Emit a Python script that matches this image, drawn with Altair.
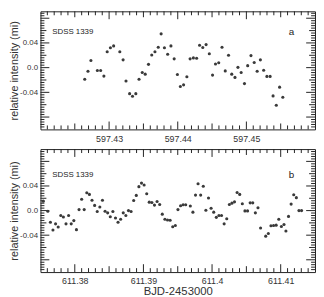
import altair as alt
import pandas as pd

# ---- data ----
t_a = [597.42645, 597.42692, 597.42735, 597.42829, 597.42877, 597.42924, 597.42972, 597.43019,
       597.43066, 597.43156, 597.43204, 597.43246, 597.43299, 597.43341, 597.43389, 597.43436,
       597.43483, 597.43526, 597.43574, 597.43621, 597.43668, 597.43716, 597.43758, 597.43806,
       597.43853, 597.43901, 597.43948, 597.43995, 597.44038, 597.44085, 597.44133, 597.44180,
       597.44228, 597.44275, 597.44318, 597.44365, 597.44413, 597.44460, 597.44507, 597.44550,
       597.44597, 597.44645, 597.44692, 597.44740, 597.44787, 597.44834, 597.44877, 597.44924,
       597.44972, 597.45019, 597.45067, 597.45114, 597.45157, 597.45204, 597.45252, 597.45299,
       597.45346, 597.45389, 597.45436, 597.45484, 597.45531]
v_a = [-0.0189, -0.0058, 0.0116, -0.0047, -0.0047, -0.0137, 0.0258, 0.0321,
       0.0352, 0.0258, 0.0126, -0.0216, -0.0421, -0.0463, -0.0421, -0.0189,
       -0.0079, -0.0105, 0.0053, 0.0205, 0.0258, 0.0331, 0.0547, 0.0321,
       0.0216, 0.0352, 0.0142, -0.0110, -0.0305, -0.0279, -0.0147, 0.0142,
       0.0158, 0.0153, 0.0363, 0.0326, 0.0373, 0.0226, -0.0121, 0.0058,
       0.0079, 0.0331, -0.0053, 0.0200, -0.0105, -0.0158, 0.0005, -0.0079,
       -0.0258, 0.0032, 0.0195, 0.0084, -0.0058, 0.0126, -0.0042, -0.0142,
       -0.0142, -0.0458, -0.0610, -0.0316, -0.0479]

t_b = [611.37540, 611.37607, 611.37645, 611.37682, 611.37720, 611.37758, 611.37796, 611.37834,
       611.37872, 611.37910, 611.37948, 611.37986, 611.38024, 611.38062, 611.38100, 611.38137,
       611.38175, 611.38213, 611.38251, 611.38289, 611.38327, 611.38365, 611.38403, 611.38441,
       611.38479, 611.38517, 611.38555, 611.38593, 611.38630, 611.38668, 611.38706, 611.38744,
       611.38782, 611.38820, 611.38858, 611.38896, 611.38934, 611.38972, 611.39010, 611.39048,
       611.39085, 611.39123, 611.39161, 611.39199, 611.39237, 611.39275, 611.39313, 611.39351,
       611.39389, 611.39427, 611.39465, 611.39503, 611.39541, 611.39578, 611.39616, 611.39683,
       611.39721, 611.39759, 611.39796, 611.39834, 611.39872, 611.39910, 611.39948, 611.39986,
       611.40024, 611.40062, 611.40100, 611.40138, 611.40176, 611.40214, 611.40252, 611.40289,
       611.40327, 611.40365, 611.40403, 611.40441, 611.40479, 611.40517, 611.40555, 611.40593,
       611.40631, 611.40669, 611.40707, 611.40782, 611.40820, 611.40858, 611.40896, 611.40934,
       611.40972, 611.41010, 611.41048, 611.41076, 611.41114, 611.41152, 611.41190, 611.41228,
       611.41266, 611.41304]
v_b = [0.0153, -0.0011, -0.0189, -0.0316, -0.0216, -0.0268, -0.0079, -0.0105,
       -0.0216, -0.0079, -0.0216, -0.0163, -0.0310, 0.0016, 0.0184, 0.0016,
       0.0289, 0.0263, 0.0168, 0.0084, -0.0016, 0.0058, 0.0168, -0.0011,
       -0.0037, -0.0100, -0.0016, -0.0121, -0.0189, -0.0142, -0.0037, -0.0079,
       0.0000, -0.0016, 0.0163, 0.0247, 0.0389, 0.0447, 0.0416, 0.0274,
       0.0137, 0.0132, 0.0089, 0.0147, 0.0100, -0.0058, -0.0142, -0.0153,
       -0.0158, -0.0263, -0.0242, 0.0016, 0.0079, 0.0095, 0.0095, 0.0074,
       -0.0026, 0.0252, 0.0437, 0.0252, 0.0395, 0.0005, 0.0205, 0.0037,
       -0.0026, -0.0110, -0.0079, -0.0079, -0.0216, -0.0132, 0.0100, 0.0121,
       0.0142, 0.0295, 0.0263, 0.0110, -0.0005, -0.0005, 0.0126, 0.0126,
       -0.0037, 0.0047, -0.0284, -0.0416, -0.0373, -0.0247, -0.0242, -0.0237,
       -0.0142, -0.0258, -0.0226, -0.0331, -0.0095, 0.0105, 0.0258, 0.0210,
       0.0000, 0.0000]

xticks_a = [597.43, 597.44, 597.45]
xticks_b = [611.38, 611.39, 611.40, 611.41]
yticks = [-0.04, 0.0, 0.04]
xdom_a = [597.42, 597.46]
xdom_b = [611.375, 611.415]
ydom_a = [-0.1, 0.0912]
ydom_b = [-0.1, 0.1]
star = "SDSS 1339"
tags = ["a", "b"]
ylabel = "relative intensity (mi)"
xlabel = "BJD-2453000"

FONT = "Liberation Sans"
W = 279
INK = "#222222"


def tick_classes(xdom, ydom):
    """Frame tick values grouped by tick length class (major / medium / minor)."""
    xc = {8: [], 6: [], 4: []}
    n = round((xdom[1] - xdom[0]) / 0.001)
    for i in range(1, n):
        t = round(xdom[0] + i * 0.001, 4)
        k = round(t * 1000)
        ln = 8 if k % 10 == 0 else (6 if k % 5 == 0 else 4)
        xc[ln].append(t)
    yc = {9: [], 6: [], 4: []}
    for k in range(-96, 100, 4):
        v = k / 1000
        if v <= ydom[0] or v >= ydom[1]:
            continue
        ln = 9 if k % 40 == 0 else (6 if k % 20 == 0 else 4)
        yc[ln].append(v)
    return xc, yc


def panel(t, v, xdom, ydom, xticks, tag, height, show_xtitle, text_y):
    xs = alt.Scale(domain=xdom, nice=False, zero=False)
    ys = alt.Scale(domain=ydom, nice=False, zero=False)
    xaxis_kw = dict(values=xticks, format=".2~f", ticks=False, domain=False, grid=False,
                    labelPadding=5, labelFontSize=9, labelFont=FONT, labelColor="#333333",
                    labelFlush=False)
    if show_xtitle:
        xaxis = alt.Axis(title=xlabel, titleFont=FONT, titleFontSize=11.5,
                         titleFontWeight="normal", titleColor="#333333", titlePadding=0,
                         **xaxis_kw)
    else:
        xaxis = alt.Axis(title=None, **xaxis_kw)
    yaxis = alt.Axis(values=yticks, ticks=False, domain=False, grid=False,
                     labelExpr="datum.value == 0 ? '0.0' : (datum.value < 0 ? '-' : '') + format(abs(datum.value), '.2f')",
                     labelPadding=3, labelFontSize=8, labelFont=FONT, labelColor="#333333",
                     title=ylabel, titleFont=FONT, titleFontSize=11, titleFontWeight="normal",
                     titleColor="#333333", titlePadding=0)
    X = alt.X("t:Q", scale=xs, axis=xaxis)
    Y = alt.Y("v:Q", scale=ys, axis=yaxis)

    df = pd.DataFrame({"t": t, "v": v})
    layers = []

    xc, yc = tick_classes(xdom, ydom)
    for ln, vals in xc.items():
        d = alt.Chart(pd.DataFrame({"t": vals}))
        layers.append(d.mark_rule(color=INK, strokeWidth=1).encode(
            x=X, y=alt.value(0), y2=alt.value(ln)))
        layers.append(d.mark_rule(color=INK, strokeWidth=1).encode(
            x=X, y=alt.value(height), y2=alt.value(height - ln)))
    for ln, vals in yc.items():
        d = alt.Chart(pd.DataFrame({"v": vals}))
        layers.append(d.mark_rule(color=INK, strokeWidth=1).encode(
            y=Y, x=alt.value(0), x2=alt.value(ln)))
        layers.append(d.mark_rule(color=INK, strokeWidth=1).encode(
            y=Y, x=alt.value(W), x2=alt.value(W - ln)))

    layers.append(alt.Chart(df).mark_circle(size=10, color="#3a3a3a", opacity=1).encode(x=X, y=Y))

    layers.append(alt.Chart(pd.DataFrame({"label": [star]})).mark_text(
        align="left", baseline="middle", font=FONT, fontSize=8, color="#222222").encode(
        x=alt.value(12), y=alt.value(text_y), text="label:N"))
    layers.append(alt.Chart(pd.DataFrame({"label": [tag]})).mark_text(
        align="center", baseline="middle", font=FONT, fontSize=10, color="#222222").encode(
        x=alt.value(255), y=alt.value(text_y), text="label:N"))

    return alt.layer(*layers).properties(width=W, height=height)


top = panel(t_a, v_a, xdom_a, ydom_a, xticks_a, tags[0], 120, False, 21)
bottom = panel(t_b, v_b, xdom_b, ydom_b, xticks_b, tags[1], 125, True, 26)

chart = alt.vconcat(top, bottom, spacing=20, bounds="flush").properties(
    padding=0, background="white"
).configure_view(stroke=INK, strokeWidth=1)

chart.save("out.html", embed_options={"renderer": "svg", "actions": False})
